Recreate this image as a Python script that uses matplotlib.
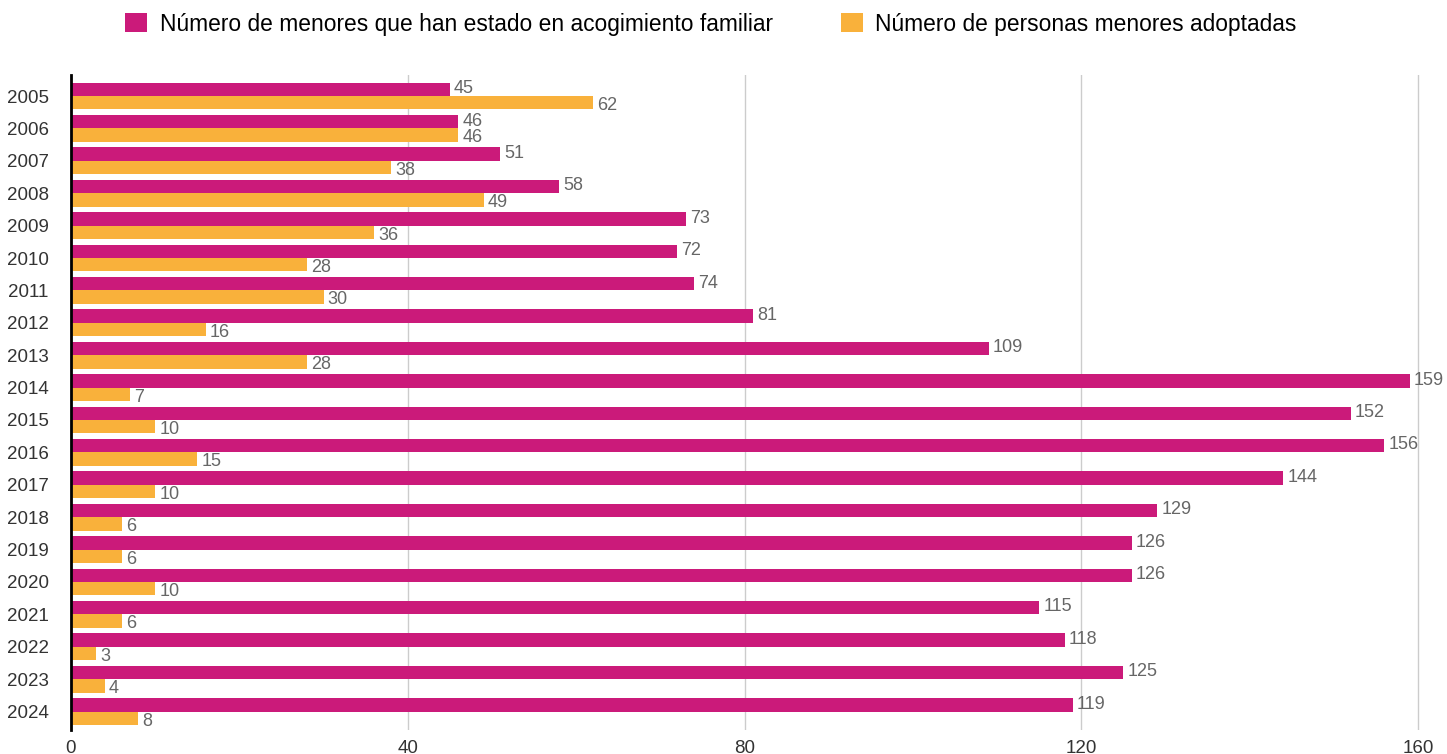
import matplotlib
matplotlib.use("Agg")
import matplotlib.pyplot as plt
from matplotlib.patches import Patch
import numpy as np

plt.rcParams['font.family'] = ['Liberation Sans', 'DejaVu Sans']

years = [str(y) for y in range(2005, 2025)]
acogimiento = [45, 46, 51, 58, 73, 72, 74, 81, 109, 159, 152, 156, 144, 129, 126, 126, 115, 118, 125, 119]
adoptadas = [62, 46, 38, 49, 36, 28, 30, 16, 28, 7, 10, 15, 10, 6, 6, 10, 6, 3, 4, 8]
series_names = ["Número de menores que han estado en acogimiento familiar",
                "Número de personas menores adoptadas"]
xticks = [0, 40, 80, 120, 160]

c1 = '#CB1A7A'
c2 = '#F9B13B'

W, H = 1447, 754
fig = plt.figure(figsize=(W / 100, H / 100), dpi=100)
ax = fig.add_axes([71 / W, (H - 730) / H, 1364 / W, 655 / H])

y = np.arange(len(years))
bh = 0.415
b1 = ax.barh(y - bh / 2, acogimiento, height=bh, color=c1, zorder=2)
b2 = ax.barh(y + bh / 2, adoptadas, height=bh, color=c2, zorder=2)

for bars, vals, dy in ((b1, acogimiento, 0.5), (b2, adoptadas, -2)):
    for rect, v in zip(bars, vals):
        ax.annotate(str(v), (rect.get_width(), rect.get_y() + rect.get_height() / 2),
                    xytext=(3, dy), textcoords='offset points', va='center', ha='left',
                    fontsize=13, color='#666666', zorder=3)

ax.set_xlim(0, 162)
ax.set_ylim(19.57, -0.65)
ax.set_yticks(y)
ax.set_yticklabels(years)
ax.set_xticks(xticks)
ax.set_xticklabels([str(t) for t in xticks])
ax.tick_params(axis='y', length=0, pad=16, labelsize=13.5, labelcolor='#333333')
ax.tick_params(axis='x', length=0, pad=7, labelsize=13.5, labelcolor='#333333')
ax.grid(axis='x', color='#cccccc', linewidth=1, zorder=1)
ax.set_axisbelow(True)
for s in ('top', 'right', 'bottom'):
    ax.spines[s].set_visible(False)
ax.spines['left'].set_color('black')
ax.spines['left'].set_linewidth(2)
ax.spines['left'].set_zorder(4)

handles = [Patch(facecolor=c1, edgecolor='none'), Patch(facecolor=c2, edgecolor='none')]
fig.legend(handles, series_names, loc='center', bbox_to_anchor=(711 / W, 1 - 24 / H),
           ncol=2, frameon=False, fontsize=16.4, handlelength=0.95, handleheight=0.95,
           handletextpad=0.55, columnspacing=3.0, borderaxespad=0)

fig.savefig('out.png', dpi=100)
